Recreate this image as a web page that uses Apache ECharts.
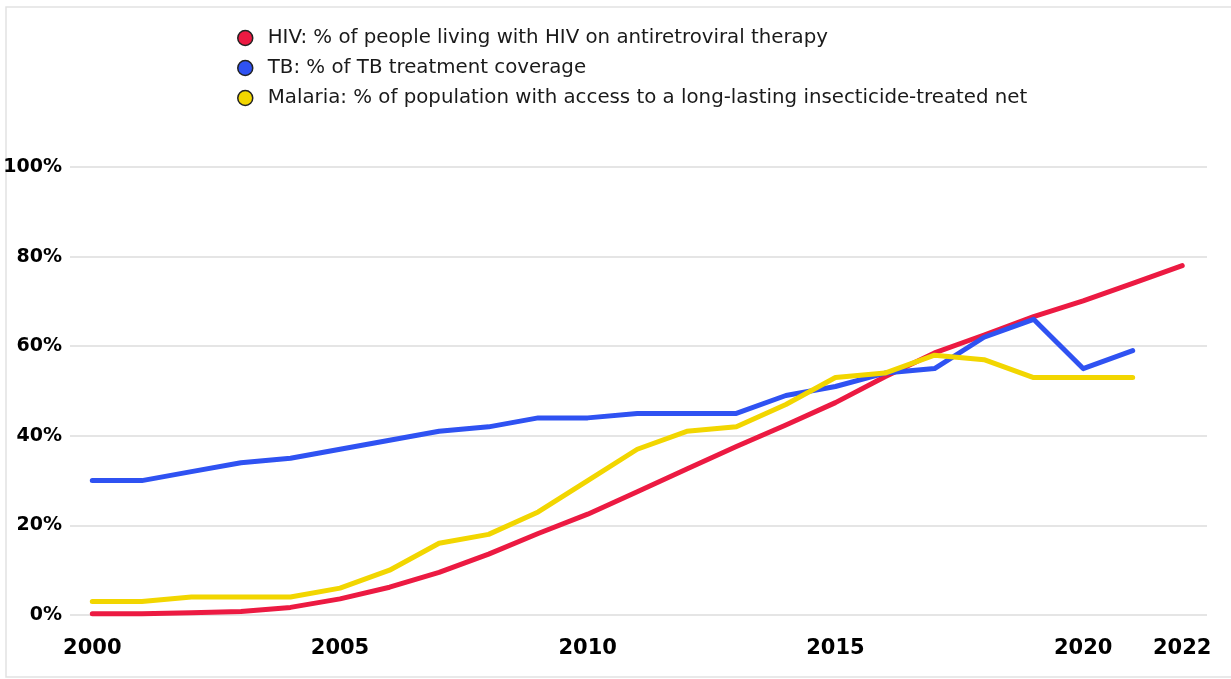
<!DOCTYPE html>
<html>
<head>
<meta charset="utf-8">
<title>HIV, TB, Malaria coverage</title>
<script src="https://cdn.jsdelivr.net/npm/echarts@6/dist/echarts.min.js"></script>
<style>
  html, body { margin: 0; padding: 0; background: #fff; }
  #main { width: 1231px; height: 679px; }
</style>
</head>
<body>
<div id="main"></div>
<script>
// years on the x axis
var years = [2000, 2001, 2002, 2003, 2004, 2005, 2006, 2007, 2008, 2009, 2010,
             2011, 2012, 2013, 2014, 2015, 2016, 2017, 2018, 2019, 2020, 2021, 2022];
var yearLabels = [2000, 2005, 2010, 2015, 2020, 2022];

// % values
var hiv     = [0.3, 0.3, 0.5, 0.8, 1.7, 3.6, 6.2, 9.5, 13.6, 18.2, 22.5,
               27.5, 32.6, 37.6, 42.4, 47.4, 53.2, 58.5, 62.5, 66.6, 70.1, 74.0, 78.0];
var tb      = [30, 30, 32, 34, 35, 37, 39, 41, 42, 44, 44,
               45, 45, 45, 49, 51, 54, 55, 62, 66, 55, 59];
var malaria = [3, 3, 4, 4, 4, 6, 10, 16, 18, 23, 30,
               37, 41, 42, 47, 53, 54, 58, 57, 53, 53, 53];

var names = [
  'HIV: % of people living with HIV on antiretroviral therapy',
  'TB: % of TB treatment coverage',
  'Malaria: % of population with access to a long-lasting insecticide-treated net'
];
var colors = ['#ec1a42', '#2f52f2', '#f2d600'];

function pairs(vals) {
  var out = [];
  for (var i = 0; i < vals.length; i++) out.push([years[i], vals[i]]);
  return out;
}

var myChart = echarts.init(document.getElementById('main'));
var option = {
  backgroundColor: '#fff',
  animation: false,
  graphic: [{
    type: 'rect',
    shape: { x: 6, y: 7, width: 1240, height: 670 },
    style: { fill: 'none', stroke: '#e2e2e2', lineWidth: 1.5 },
    silent: true
  }],
  legend: {
    orient: 'vertical',
    left: 232,
    top: 23,
    icon: 'circle',
    itemWidth: 15,
    itemHeight: 15,
    itemGap: 10,
    itemStyle: { borderColor: '#222', borderWidth: 1.5 },
    textStyle: {
      fontFamily: 'DejaVu Sans',
      fontSize: 19.8,
      color: '#1a1a1a',
      padding: [0, 0, 0, 10]
    },
    data: names
  },
  grid: {
    left: 70,
    right: 24,
    top: 167,
    bottom: 64,
    containLabel: false
  },
  xAxis: {
    type: 'value',
    min: 1999.55,
    max: 2022.5,
    axisLine: { show: false },
    axisTick: { show: false },
    splitLine: { show: false },
    axisLabel: {
      customValues: yearLabels,
      formatter: function (v) { return String(v); },
      fontFamily: 'DejaVu Sans',
      fontWeight: 'bold',
      fontSize: 21,
      color: '#000',
      margin: 23
    }
  },
  yAxis: {
    type: 'value',
    min: 0,
    max: 100,
    interval: 20,
    axisLine: { show: false },
    axisTick: { show: false },
    splitLine: { lineStyle: { color: '#dcdcdc', width: 1.5 } },
    axisLabel: {
      formatter: '{value}%',
      fontFamily: 'DejaVu Sans',
      fontWeight: 'bold',
      fontSize: 19,
      color: '#000',
      margin: 8
    }
  },
  series: [
    {
      name: names[0],
      type: 'line',
      showSymbol: false,
      color: colors[0],
      lineStyle: { width: 5, cap: 'round', join: 'round' },
      data: pairs(hiv)
    },
    {
      name: names[1],
      type: 'line',
      showSymbol: false,
      color: colors[1],
      lineStyle: { width: 5, cap: 'round', join: 'round' },
      data: pairs(tb)
    },
    {
      name: names[2],
      type: 'line',
      showSymbol: false,
      color: colors[2],
      lineStyle: { width: 5, cap: 'round', join: 'round' },
      data: pairs(malaria)
    }
  ]
};
myChart.setOption(option);
</script>
</body>
</html>
